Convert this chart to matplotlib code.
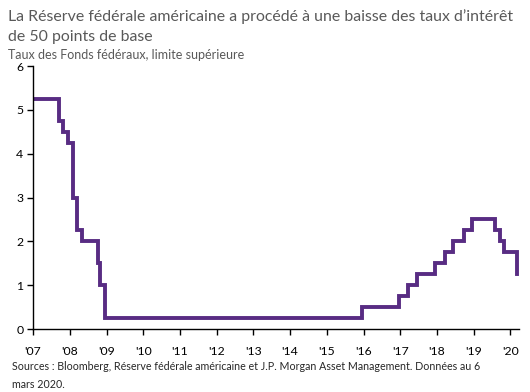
import pandas as pd
import matplotlib.pyplot as plt
import matplotlib.dates as mdates

# Taux des Fonds fédéraux, limite supérieure (dates de changement)
change_dates = ["2007-01-01", "2007-09-18", "2007-10-31", "2007-12-11", "2008-01-30",
                "2008-03-18", "2008-04-30", "2008-10-08", "2008-10-29", "2008-12-16",
                "2015-12-16", "2016-12-14", "2017-03-15", "2017-06-14", "2017-12-13",
                "2018-03-21", "2018-06-13", "2018-09-26", "2018-12-19", "2019-07-31",
                "2019-09-18", "2019-10-30", "2020-03-03", "2020-03-06"]
rates = [5.25, 4.75, 4.50, 4.25, 3.00,
         2.25, 2.00, 1.50, 1.00, 0.25,
         0.50, 0.75, 1.00, 1.25, 1.50,
         1.75, 2.00, 2.25, 2.50, 2.25,
         2.00, 1.75, 1.25, 1.25]

years = list(range(2007, 2021))
y_ticks = [0, 1, 2, 3, 4, 5, 6]

title = "La Réserve fédérale américaine a procédé à une baisse des taux d\u2019intérêt\nde 50 points de base"
subtitle = "Taux des Fonds fédéraux, limite supérieure"
source = ("Sources : Bloomberg, Réserve fédérale américaine et J.P. Morgan Asset Management. Données au 6\n"
          "mars 2020.")

plt.rcParams['font.family'] = ['Lato', 'DejaVu Sans']

purple = "#582C83"
grey = "#595959"

fig = plt.figure(figsize=(5.3, 3.92), dpi=100)
ax = fig.add_axes([0.0623, 0.1607, 0.9167, 0.6709])

dates = pd.to_datetime(change_dates)
ax.plot(dates, rates, drawstyle="steps-post", color=purple, lw=2.8,
        solid_joinstyle="miter")

ax.set_ylim(0, 6)
ax.set_yticks(y_ticks)
ax.set_xlim(pd.Timestamp("2007-01-01"), pd.Timestamp("2020-03-25"))
ax.set_xticks([pd.Timestamp(f"{y}-01-01") for y in years])
ax.xaxis.set_major_formatter(mdates.DateFormatter("'%y"))

for s in ["top", "right"]:
    ax.spines[s].set_visible(False)
for s in ["left", "bottom"]:
    ax.spines[s].set_color("black")
    ax.spines[s].set_linewidth(1.0)

ax.tick_params(axis="both", direction="out", length=4, width=1.0,
               labelsize=8.8, colors="black", pad=3)
ax.tick_params(axis="x", pad=8)

fig.text(0.015, 0.976, title, ha="left", va="top", fontsize=11.4,
         color=grey, linespacing=1.5)
fig.text(0.015, 0.875, subtitle, ha="left", va="top", fontsize=9,
         color=grey)
fig.text(0.022, 0.078, source, ha="left", va="top", fontsize=7.7,
         color="#262626", linespacing=1.7)

fig.savefig("out.png", dpi=100)
